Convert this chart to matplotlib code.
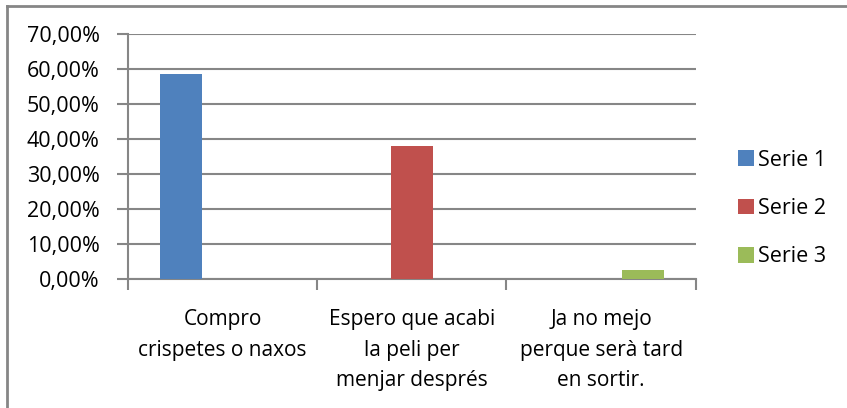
import matplotlib
matplotlib.use("Agg")
import matplotlib.pyplot as plt
from matplotlib.patches import Patch
from matplotlib.lines import Line2D
import numpy as np

categories = ["Compro\ncrispetes o naxos", "Espero que acabi\nla peli per\nmenjar després",
              "Ja no mejo\nperque serà tard\nen sortir."]
series_names = ["Serie 1", "Serie 2", "Serie 3"]
serie1 = [58.6, 0, 0]
serie2 = [0, 38.0, 0]
serie3 = [0, 0, 2.7]
colors = ["#4F81BD", "#C0504D", "#9BBB59"]
yticks = [0, 10, 20, 30, 40, 50, 60, 70]

plt.rcParams['font.family'] = ['Open Sans', 'DejaVu Sans']
fs = 15.5
fsx = 15

fig = plt.figure(figsize=(8.47, 4.08), dpi=100)
ax = fig.add_axes([128/847, 1-279.3/408, (695.7-128)/847, (279.3-34)/408])

x = np.arange(len(categories))
w = 1/4.5
for i, (vals, c) in enumerate(zip([serie1, serie2, serie3], colors)):
    ax.bar(x + (i-1)*w, vals, width=w, color=c, zorder=3)

ax.set_xlim(-0.5, 2.5)
ax.set_ylim(0, 70)
ax.set_yticks(yticks)
ax.set_yticklabels([f"{v:.2f}".replace(".", ",") + "%" for v in yticks], fontsize=fs, color="black")
ax.yaxis.grid(True, color="#868686", linewidth=1.5, zorder=0)
ax.set_axisbelow(True)

ax.set_xticks([-0.5, 0.5, 1.5, 2.5])
ax.set_xticklabels([])
ax.set_xticks(x, minor=True)
ax.set_xticklabels(categories, minor=True, fontsize=fsx, linespacing=1.6, va="top")
ax.tick_params(axis="x", which="minor", length=0, pad=21.5)
ax.tick_params(axis="x", which="major", length=8, width=1.5, color="#868686", direction="out")
ax.tick_params(axis="y", length=8, width=1.5, color="#868686", direction="out", pad=12.5)

for s in ["top", "right"]:
    ax.spines[s].set_visible(False)
for s in ["left", "bottom"]:
    ax.spines[s].set_color("#868686")
    ax.spines[s].set_linewidth(1.5)

handles = [Patch(facecolor=c, edgecolor="none") for c in colors]
fig.legend(handles, series_names, loc="center left", bbox_to_anchor=(738/847, 1-208.5/408),
           frameon=False, fontsize=fs, handlelength=0.74, handleheight=0.74,
           handletextpad=0.2, labelspacing=1.27, borderpad=0, borderaxespad=0)

# outer chart border (top and left visible)
fig.add_artist(Line2D([7/847, 1], [1-5.5/408, 1-5.5/408], color="#868686", linewidth=2,
                      transform=fig.transFigure))
fig.add_artist(Line2D([7/847, 7/847], [0, 1-5.5/408], color="#868686", linewidth=2,
                      transform=fig.transFigure))

fig.savefig("out.png", dpi=100, facecolor="white")
